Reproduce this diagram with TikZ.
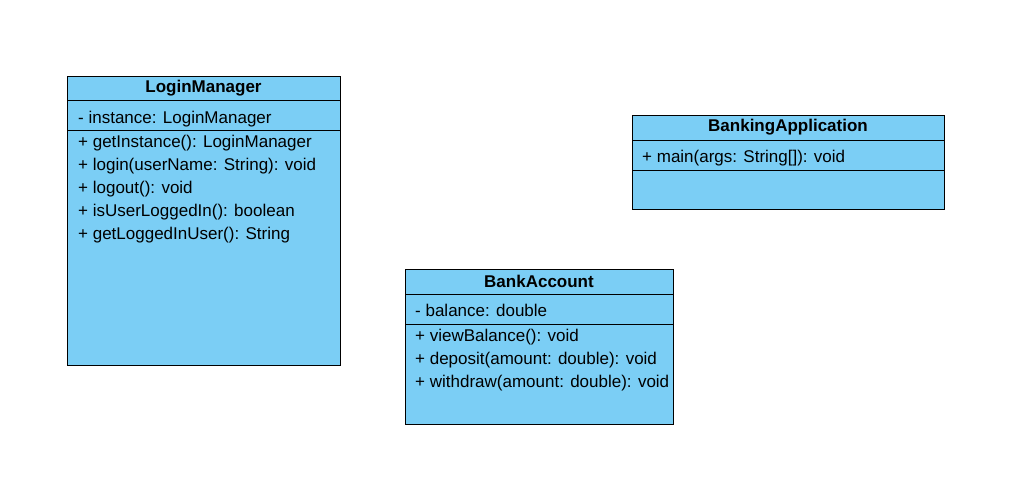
\documentclass[tikz,border=0pt]{standalone}
\usepackage{fontspec}
\setmainfont{Liberation Sans}
\usetikzlibrary{positioning}
\definecolor{classblue}{RGB}{123,206,245}

\begin{document}
\begin{tikzpicture}[x=1pt, y=-1pt]
            \tikzset{class part/.style={draw=black, fill=classblue, line width=1pt, inner sep=0pt, outer sep=0pt, anchor=north west}};
            \tikzset{class name/.style={font={\fontsize{17}{20}\selectfont\bfseries}, inner sep=0pt}};
            \tikzset{member/.style={anchor=base west, font={\fontsize{17}{20}\selectfont}, inner sep=0pt}};
            \useasboundingbox (0, 0) rectangle (1022, 490);
            % LoginManager
            \node[class part, minimum width=273pt, minimum height=24pt] (login head) at (67, 76) {};
            \node[class part, minimum width=273pt, minimum height=30pt] (login attr) at (login head.south west) {};
            \node[class part, minimum width=273pt, minimum height=235pt] (login ops) at (login attr.south west) {};
            \node[class name] (login name) at (login head.center) {LoginManager};
            \node[member] (login a1) at (78, 123) {- instance: LoginManager};
            \node[member] (login o1) at (78, 147) {+ getInstance(): LoginManager};
            \node[member] (login o2) at (78, 170) {+ login(userName: String): void};
            \node[member] (login o3) at (78, 193) {+ logout(): void};
            \node[member] (login o4) at (78, 216) {+ isUserLoggedIn(): boolean};
            \node[member] (login o5) at (78, 239) {+ getLoggedInUser(): String};
            % BankingApplication
            \node[class part, minimum width=312pt, minimum height=25pt] (app head) at (632, 115) {};
            \node[class part, minimum width=312pt, minimum height=30pt] (app attr) at (app head.south west) {};
            \node[class part, minimum width=312pt, minimum height=39pt] (app ops) at (app attr.south west) {};
            \node[class name] (app name) at (app head.center) {BankingApplication};
            \node[member] (app a1) at (642, 162) {+ main(args: String[]): void};
            % BankAccount
            \node[class part, minimum width=268pt, minimum height=25pt] (account head) at (405, 269) {};
            \node[class part, minimum width=268pt, minimum height=30pt] (account attr) at (account head.south west) {};
            \node[class part, minimum width=268pt, minimum height=100pt] (account ops) at (account attr.south west) {};
            \node[class name] (account name) at (account head.center) {BankAccount};
            \node[member] (account a1) at (415, 316) {- balance: double};
            \node[member] (account o1) at (415, 341) {+ viewBalance(): void};
            \node[member] (account o2) at (415, 364) {+ deposit(amount: double): void};
            \node[member] (account o3) at (415, 387) {+ withdraw(amount: double): void};
\end{tikzpicture}
\end{document}
